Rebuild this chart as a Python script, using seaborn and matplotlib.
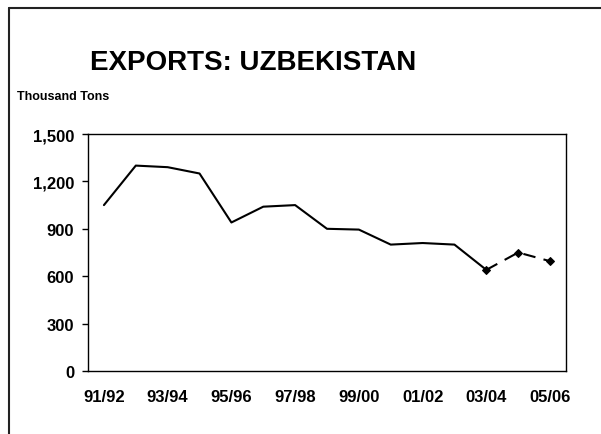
import matplotlib
matplotlib.use("Agg")
import matplotlib.pyplot as plt
from matplotlib.lines import Line2D
import seaborn as sns
import pandas as pd
import numpy as np

seasons = ["91/92", "92/93", "93/94", "94/95", "95/96", "96/97", "97/98",
           "98/99", "99/00", "00/01", "01/02", "02/03", "03/04", "04/05", "05/06"]
exports = [1050, 1300, 1290, 1250, 940, 1040, 1050,
           900, 895, 800, 810, 800, 640, 750, 695]
n_actual = 13  # through 03/04 solid; 03/04 to 05/06 dashed (projection)
yticks = [0, 300, 600, 900, 1200, 1500]

sns.set_style("white")
plt.rcParams['font.family'] = ['Liberation Sans', 'DejaVu Sans']
plt.rcParams['font.weight'] = 'bold'
plt.rcParams['text.color'] = 'black'
plt.rcParams['xtick.color'] = 'black'
plt.rcParams['ytick.color'] = 'black'
plt.rcParams['axes.labelcolor'] = 'black'

df = pd.DataFrame({"pos": np.arange(len(seasons)), "season": seasons, "value": exports})
actual = df.iloc[:n_actual]
proj = df.iloc[n_actual - 1:]

fig = plt.figure(figsize=(6.01, 4.35), dpi=100)
W, H = 601, 435
ax = fig.add_axes([88 / W, 1 - 372 / H, (566 - 88) / W, (372 - 135) / H])

sns.lineplot(data=actual, x="pos", y="value", ax=ax, color="black", linewidth=1.5)
sns.lineplot(data=proj, x="pos", y="value", ax=ax, color="black", linewidth=1.5,
             linestyle=(0, (6, 4)), marker="D", markersize=4, markeredgecolor="black")

ax.set_xlim(-0.5, len(seasons) - 0.5)
ax.set_ylim(0, 1500)
ax.set_xticks(df["pos"][::2])
ax.set_xticklabels(seasons[::2], fontsize=12, fontweight="bold", color="black")
ax.set_yticks(yticks)
ax.set_yticklabels([f"{v:,}" for v in yticks], fontsize=12, fontweight="bold", color="black")
ax.tick_params(axis="x", length=0, pad=13)
ax.tick_params(axis="y", length=4, width=1, color="black", pad=6, left=True)
ax.set_xlabel("")
ax.set_ylabel("")
for s in ax.spines.values():
    s.set_visible(True)
    s.set_color("black")
    s.set_linewidth(1)

fig.text(253 / W, 1 - 63 / H, "EXPORTS: UZBEKISTAN", ha="center", va="center",
         fontsize=20, fontweight="bold", color="black")
fig.text(17 / W, 1 - 97 / H, "Thousand Tons", ha="left", va="center",
         fontsize=9, fontweight="bold", color="black")

# outer frame (left and top edges visible)
fig.add_artist(Line2D([9 / W, 9 / W], [0, 1 - 9 / H], transform=fig.transFigure,
                      color="#222222", linewidth=1.5))
fig.add_artist(Line2D([9 / W, 1], [1 - 9 / H, 1 - 9 / H], transform=fig.transFigure,
                      color="#222222", linewidth=1.5))

fig.savefig("out.png", dpi=100)
